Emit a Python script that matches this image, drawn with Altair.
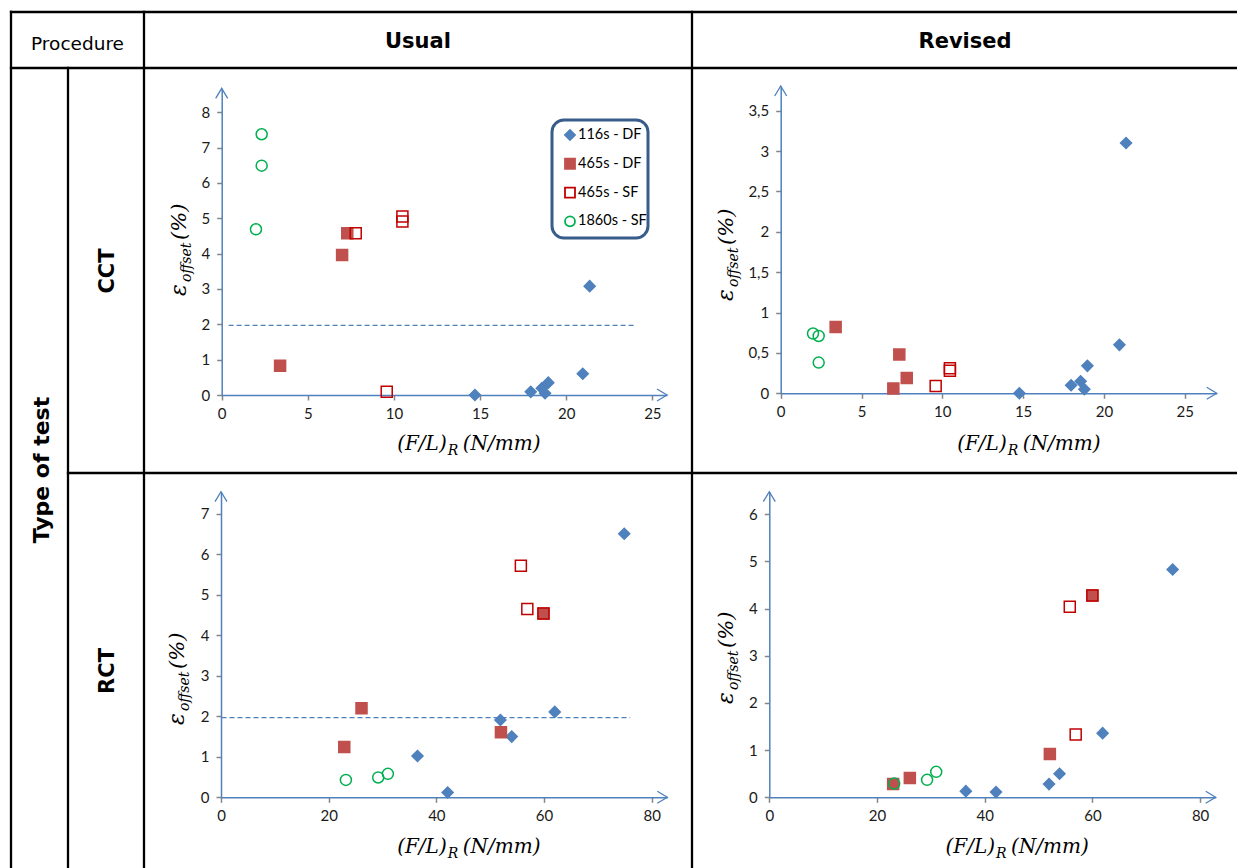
import altair as alt
import pandas as pd

W, H = 1237, 868

# ---------------- series definitions ----------------
SERIES = ["116s - DF", "465s - DF", "465s - SF", "1860s - SF"]
SHAPES = ["diamond", "square", "square", "circle"]
FILLS = ["#4F81BD", "#C0504D", "transparent", "transparent"]
STROKES = ["#4F81BD", "#C0504D", "#C00000", "#00B050"]
BLUE = "#4F81BD"

# ---------------- data: Usual procedure, CCT ----------------
u_cct_116df_x = [14.7, 17.94, 18.58, 18.77, 18.96, 20.96, 21.36]
u_cct_116df_y = [0.0, 0.09, 0.19, 0.05, 0.35, 0.60, 3.08]
u_cct_465df_x = [3.39, 6.99, 7.29]
u_cct_465df_y = [0.83, 3.96, 4.58]
u_cct_465sf_x = [7.78, 9.58, 10.49, 10.49]
u_cct_465sf_y = [4.58, 0.09, 5.05, 4.91]
u_cct_1860sf_x = [2.32, 2.32, 1.99]
u_cct_1860sf_y = [7.38, 6.49, 4.69]

# ---------------- data: Revised procedure, CCT ----------------
r_cct_116df_x = [14.77, 17.97, 18.56, 18.79, 18.98, 20.96, 21.37]
r_cct_116df_y = [0.0, 0.10, 0.15, 0.05, 0.34, 0.60, 3.10]
r_cct_465df_x = [3.40, 7.34, 7.80, 6.97]
r_cct_465df_y = [0.82, 0.48, 0.19, 0.06]
r_cct_465sf_x = [9.59, 10.47, 10.47]
r_cct_465sf_y = [0.09, 0.28, 0.31]
r_cct_1860sf_x = [2.0, 2.35, 2.35]
r_cct_1860sf_y = [0.74, 0.71, 0.38]

# ---------------- data: Usual procedure, RCT ----------------
u_rct_116df_x = [36.5, 42.1, 51.9, 54.0, 62.0, 74.9]
u_rct_116df_y = [1.02, 0.12, 1.91, 1.50, 2.11, 6.51]
u_rct_465df_x = [22.9, 26.1, 52.0, 59.9]
u_rct_465df_y = [1.24, 2.20, 1.61, 4.54]
u_rct_465sf_x = [55.7, 56.9, 59.9]
u_rct_465sf_y = [5.72, 4.65, 4.54]
u_rct_1860sf_x = [23.2, 29.2, 31.0]
u_rct_1860sf_y = [0.43, 0.49, 0.58]

# ---------------- data: Revised procedure, RCT ----------------
r_rct_116df_x = [36.5, 42.1, 51.95, 53.9, 61.9, 74.9]
r_rct_116df_y = [0.13, 0.11, 0.28, 0.50, 1.36, 4.83]
r_rct_465df_x = [23.0, 26.1, 52.1, 60.0]
r_rct_465df_y = [0.28, 0.41, 0.92, 4.28]
r_rct_465sf_x = [55.8, 56.9, 60.0]
r_rct_465sf_y = [4.04, 1.33, 4.28]
r_rct_1860sf_x = [23.2, 29.3, 31.0]
r_rct_1860sf_y = [0.29, 0.37, 0.54]

# threshold line (2 %) drawn in the "Usual" panels
thr_cct_x = [0.4, 24.0]
thr_rct_x = [0.1, 76.0]
thr_y = [1.97, 1.97]

# tick values
ticks_x_cct = [0, 5, 10, 15, 20, 25]
ticks_x_rct = [0, 20, 40, 60, 80]
ticks_y_u_cct = [0, 1, 2, 3, 4, 5, 6, 7, 8]
ticks_y_r_cct = [0, 0.5, 1, 1.5, 2, 2.5, 3, 3.5]
ticks_y_u_rct = [0, 1, 2, 3, 4, 5, 6, 7]
ticks_y_r_rct = [0, 1, 2, 3, 4, 5, 6]


def make_df(xs_list, ys_list):
    rows = []
    for s, xs, ys in zip(SERIES, xs_list, ys_list):
        for a, b in zip(xs, ys):
            rows.append({"x": a, "y": b, "series": s})
    return pd.DataFrame(rows)


panels = [
    dict(df=make_df([u_cct_116df_x, u_cct_465df_x, u_cct_465sf_x, u_cct_1860sf_x],
                    [u_cct_116df_y, u_cct_465df_y, u_cct_465sf_y, u_cct_1860sf_y]),
         xdom=[0, 25.85], ydom=[0, 8.68], xr=[221.7, 667], yr=[395, 88.3],
         xt=ticks_x_cct, yt=ticks_y_u_cct, comma=False, thr=(thr_cct_x, thr_y),
         xtitle=(396.7, 450), ytitle=(186, 296)),
    dict(df=make_df([r_cct_116df_x, r_cct_465df_x, r_cct_465sf_x, r_cct_1860sf_x],
                    [r_cct_116df_y, r_cct_465df_y, r_cct_465sf_y, r_cct_1860sf_y]),
         xdom=[0, 26.98], ydom=[0, 3.805], xr=[780.7, 1216.7], yr=[393.3, 86],
         xt=ticks_x_cct, yt=ticks_y_r_cct, comma=True, thr=None,
         xtitle=(956.7, 450), ytitle=(733, 301)),
    dict(df=make_df([u_rct_116df_x, u_rct_465df_x, u_rct_465sf_x, u_rct_1860sf_x],
                    [u_rct_116df_y, u_rct_465df_y, u_rct_465sf_y, u_rct_1860sf_y]),
         xdom=[0, 82.9], ydom=[0, 7.55], xr=[221, 667.3], yr=[797.3, 491.7],
         xt=ticks_x_rct, yt=ticks_y_u_rct, comma=False, thr=(thr_rct_x, thr_y),
         xtitle=(396.7, 853), ytitle=(184, 725)),
    dict(df=make_df([r_rct_116df_x, r_rct_465df_x, r_rct_465sf_x, r_rct_1860sf_x],
                    [r_rct_116df_y, r_rct_465df_y, r_rct_465sf_y, r_rct_1860sf_y]),
         xdom=[0, 82.9], ydom=[0, 6.48], xr=[769.3, 1215.7], yr=[797.3, 491.7],
         xt=ticks_x_rct, yt=ticks_y_r_rct, comma=False, thr=None,
         xtitle=(945, 853), ytitle=(733, 704)),
]

ONE = pd.DataFrame({"k": [0]})

shape_enc = alt.Shape("series:N", scale=alt.Scale(domain=SERIES, range=SHAPES), legend=None)
fill_enc = alt.Fill("series:N", scale=alt.Scale(domain=SERIES, range=FILLS), legend=None)
stroke_enc = alt.Stroke("series:N", scale=alt.Scale(domain=SERIES, range=STROKES), legend=None)


def txt(x, y, s, **kw):
    return alt.Chart(ONE).mark_text(text=s, **kw).encode(x=alt.value(x), y=alt.value(y))


def panel_layers(p):
    xs = alt.Scale(domain=p["xdom"], range=p["xr"], nice=False, zero=False)
    ys = alt.Scale(domain=p["ydom"], range=p["yr"], nice=False, zero=False)
    out = []
    if p["thr"] is not None:
        tdf = pd.DataFrame({"x": p["thr"][0], "y": p["thr"][1]})
        out.append(alt.Chart(tdf).mark_line(color=BLUE, strokeDash=[5, 3], strokeWidth=1.3).encode(
            x=alt.X("x:Q", scale=xs, axis=None), y=alt.Y("y:Q", scale=ys, axis=None)))
    common = dict(domainColor=BLUE, domainWidth=1.5, tickColor="#868686", tickSize=5,
                  tickWidth=1.5, labelFont="Lato", labelFontSize=15, labelColor="#1a1a1a",
                  grid=False, title=None, labelFlush=False, labelOverlap=False)
    xaxis = alt.Axis(values=p["xt"], orient="bottom", offset=p["yr"][0] - H, labelPadding=6, **common)
    ykw = dict(values=p["yt"], orient="left", offset=-p["xr"][0], labelPadding=7, **common)
    if p["comma"]:
        ykw["labelExpr"] = "replace(toString(datum.value), '.', ',')"
    yaxis = alt.Axis(**ykw)
    out.append(alt.Chart(p["df"]).mark_point(filled=True, size=121, strokeWidth=1.5, opacity=1).encode(
        x=alt.X("x:Q", scale=xs, axis=xaxis), y=alt.Y("y:Q", scale=ys, axis=yaxis),
        shape=shape_enc, fill=fill_enc, stroke=stroke_enc))
    # axis arrow heads
    adf_x = pd.DataFrame({"x": [p["xdom"][1]], "y": [0]})
    adf_y = pd.DataFrame({"x": [0], "y": [p["ydom"][1]]})
    out.append(alt.Chart(adf_x).mark_point(shape="M-1,-0.6L0,0L-1,0.6", size=400, filled=False,
                                           color=BLUE, strokeWidth=1.3, opacity=1).encode(
        x=alt.X("x:Q", scale=xs, axis=None), y=alt.Y("y:Q", scale=ys, axis=None)))
    out.append(alt.Chart(adf_y).mark_point(shape="M-0.6,1L0,0L0.6,1", size=400, filled=False,
                                           color=BLUE, strokeWidth=1.3, opacity=1).encode(
        x=alt.X("x:Q", scale=xs, axis=None), y=alt.Y("y:Q", scale=ys, axis=None)))
    # x title  (F/L)_R(N/mm)
    xl, base = p["xtitle"]
    sf = dict(font="DejaVu Serif", fontStyle="italic", color="#000000", baseline="alphabetic")
    out.append(txt(xl + 50, base, "(F/L)", align="right", fontSize=20, **sf))
    out.append(txt(xl + 51, base + 5, "R", align="left", fontSize=14, **sf))
    out.append(txt(xl + 66, base, "(N/mm)", align="left", fontSize=20, **sf))
    # y title  eps_offset(%)
    bx, ys0 = p["ytitle"]
    out.append(txt(bx, ys0, "ε", align="left", angle=270, fontSize=22, **sf))
    out.append(txt(bx + 5, ys0 - 14, "offset", align="left", angle=270, fontSize=14, **sf))
    out.append(txt(bx, ys0 - 56, "(%)", align="left", angle=270, fontSize=21, **sf))
    return out


layers = []

# ---------------- table grid ----------------
LW = 2.3
vlines = [(11, 12, H), (68, 68, H), (144, 12, H), (692, 12, H)]
hlines = [(12, 11, W), (68, 11, W), (473, 68, W)]
for x, y1, y2 in vlines:
    layers.append(alt.Chart(ONE).mark_rule(color="black", strokeWidth=LW, strokeCap="square").encode(
        x=alt.value(x), y=alt.value(y1), y2=alt.value(y2)))
for y, x1, x2 in hlines:
    layers.append(alt.Chart(ONE).mark_rule(color="black", strokeWidth=LW, strokeCap="square").encode(
        y=alt.value(y), x=alt.value(x1), x2=alt.value(x2)))

# ---------------- table texts ----------------
hf = dict(font="DejaVu Sans", color="#000000", baseline="middle", align="center")
layers.append(txt(77.5, 44, "Procedure", fontSize=18.5, **hf))
layers.append(txt(418, 42, "Usual", fontSize=21, fontWeight="bold", **hf))
layers.append(txt(965, 42, "Revised", fontSize=21, fontWeight="bold", **hf))
layers.append(txt(42, 470, "Type of test", fontSize=22, fontWeight="bold", angle=270, **hf))
layers.append(txt(108, 271, "CCT", fontSize=21, fontWeight="bold", angle=270, **hf))
layers.append(txt(108, 671, "RCT", fontSize=21, fontWeight="bold", angle=270, **hf))

# ---------------- panels ----------------
for p in panels:
    layers.extend(panel_layers(p))

# ---------------- legend (Usual / CCT panel) ----------------
layers.append(alt.Chart(ONE).mark_rect(fill="white", stroke="#385D8A", strokeWidth=3, cornerRadius=12).encode(
    x=alt.value(552), x2=alt.value(648), y=alt.value(120), y2=alt.value(238)))
leg_df = pd.DataFrame({"series": SERIES})
leg_y = alt.Y("series:N", scale=alt.Scale(type="point", domain=SERIES, range=[135, 221.3], padding=0), axis=None)
layers.append(alt.Chart(leg_df).mark_point(filled=True, size=100, strokeWidth=1.8, opacity=1).encode(
    x=alt.value(570), y=leg_y, shape=shape_enc, fill=fill_enc, stroke=stroke_enc))
layers.append(alt.Chart(leg_df).mark_text(align="left", baseline="middle", font="Lato", fontSize=14.5,
                                          color="#000000").encode(
    x=alt.value(578), y=leg_y, text="series:N"))

chart = alt.layer(*layers).resolve_scale(x="independent", y="independent").properties(
    width=W, height=H, autosize=alt.AutoSizeParams(type="none"), padding=0
).configure_view(stroke=None)

chart.save("out.html", embed_options={"renderer": "svg", "actions": False})
